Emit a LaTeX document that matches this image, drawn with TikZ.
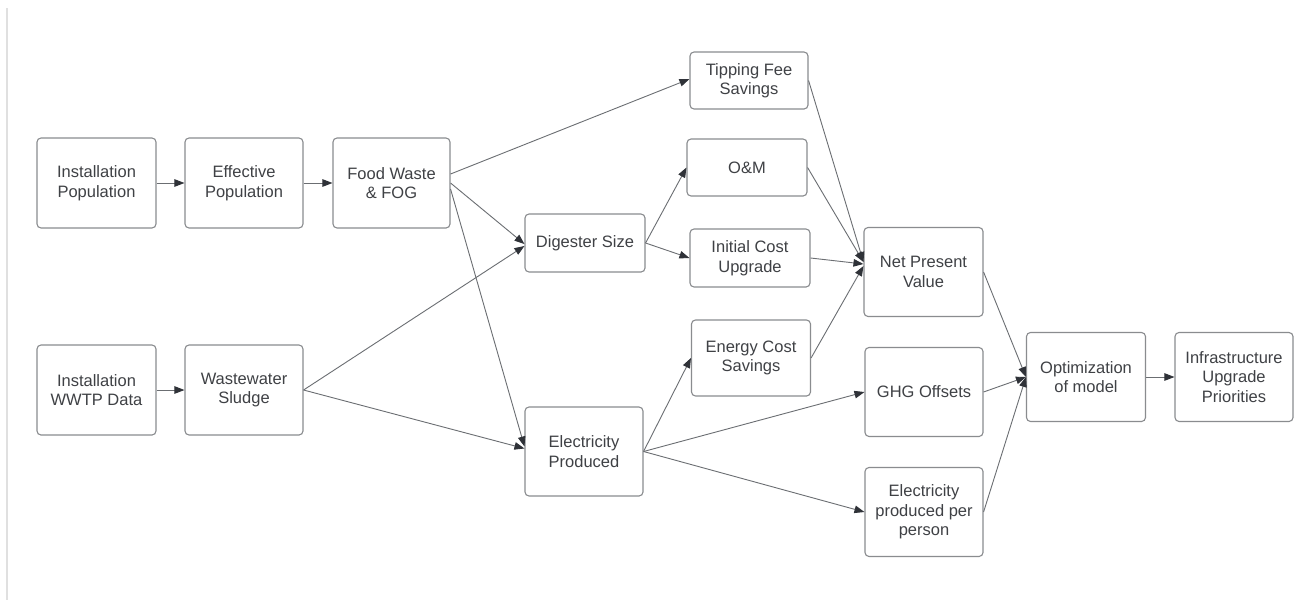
\documentclass[tikz,border=0pt]{standalone}
\usepackage{fontspec}
\setmainfont{Liberation Sans}
\usetikzlibrary{arrows.meta}
\definecolor{boxline}{HTML}{8A8C8F}
\definecolor{txt}{HTML}{3F4145}
\definecolor{conn}{HTML}{6B6E72}
\definecolor{tipc}{HTML}{2F3238}
\tikzset{
  box/.style={draw=boxline, line width=1.1pt, rounded corners=4pt, align=center,
    text=txt, font=\fontsize{16.5}{19.5}\selectfont, inner sep=2pt},
  conn/.style={draw=conn, line width=0.9pt,
    -{Triangle[length=10pt,width=7.5pt,color=tipc,fill=tipc]}}
}
\begin{document}
\begin{tikzpicture}[x=1pt,y=-1pt]
\useasboundingbox (0,0) rectangle (1305,600);
\fill[white] (0,0) rectangle (1305,600);
\draw[line width=1.6pt, color=black!12] (7,8) -- (7,600);
% nodes
\node[box, minimum width=119pt, minimum height=90pt] (ip) at (96.5,183) {Installation\\Population};
\node[box, minimum width=118pt, minimum height=90pt] (ep) at (244,183) {Effective\\Population};
\node[box, minimum width=117pt, minimum height=90pt] (fw) at (391.5,183) {Food Waste\\\& FOG};
\node[box, minimum width=119pt, minimum height=90pt] (wd) at (96.5,390) {Installation\\WWTP Data};
\node[box, minimum width=118pt, minimum height=90pt] (ws) at (244,390) {Wastewater\\Sludge};
\node[box, minimum width=120pt, minimum height=58pt] (ds) at (585,243) {Digester Size};
\node[box, minimum width=118pt, minimum height=89pt] (el) at (584,451.5) {Electricity\\Produced};
\node[box, minimum width=118pt, minimum height=57pt] (tf) at (749,80.5) {Tipping Fee\\Savings};
\node[box, minimum width=120pt, minimum height=57pt] (om) at (747,167.5) {O\&M};
\node[box, minimum width=120pt, minimum height=58pt] (ic) at (750,258) {Initial Cost\\Upgrade};
\node[box, minimum width=119pt, minimum height=76pt] (ec) at (751,358) {Energy Cost\\Savings};
\node[box, minimum width=119pt, minimum height=89pt] (npv) at (923.5,272) {Net Present\\Value};
\node[box, minimum width=118pt, minimum height=89pt] (ghg) at (924,392) {GHG Offsets};
\node[box, minimum width=118pt, minimum height=89pt] (epp) at (924,512) {Electricity\\produced per\\person};
\node[box, minimum width=119pt, minimum height=89pt] (opt) at (1086,377) {Optimization\\of model};
\node[box, minimum width=118pt, minimum height=89pt] (inf) at (1234,377) {Infrastructure\\Upgrade\\Priorities};
% connectors
\draw[conn] (ip.east) -- (ep.west);
\draw[conn] (ep.east) -- (fw.west);
\draw[conn] (wd.east) -- (ws.west);
\draw[conn] ([yshift=9pt]fw.east) -- ([yshift=1.5pt]tf.west);
\draw[conn] (fw.east) -- ([yshift=-1pt]ds.west);
\draw[conn] ([yshift=-6pt]fw.east) -- ([yshift=5pt]el.west);
\draw[conn] (ws.east) -- ([yshift=-3pt]ds.west);
\draw[conn] (ws.east) -- ([yshift=3pt]el.west);
\draw[conn] (ds.east) -- (om.west);
\draw[conn] (ds.east) -- (ic.west);
\draw[conn] (el.east) -- (ec.west);
\draw[conn] (el.east) -- (ghg.west);
\draw[conn] (el.east) -- (epp.west);
\draw[conn] (tf.east) -- ([yshift=10pt]npv.west);
\draw[conn] (om.east) -- ([yshift=10pt]npv.west);
\draw[conn] (ic.east) -- ([yshift=8pt]npv.west);
\draw[conn] (ec.east) -- ([yshift=6pt]npv.west);
\draw[conn] (npv.east) -- (opt.west);
\draw[conn] (ghg.east) -- (opt.west);
\draw[conn] (epp.east) -- (opt.west);
\draw[conn] (opt.east) -- (inf.west);
\end{tikzpicture}
\end{document}
